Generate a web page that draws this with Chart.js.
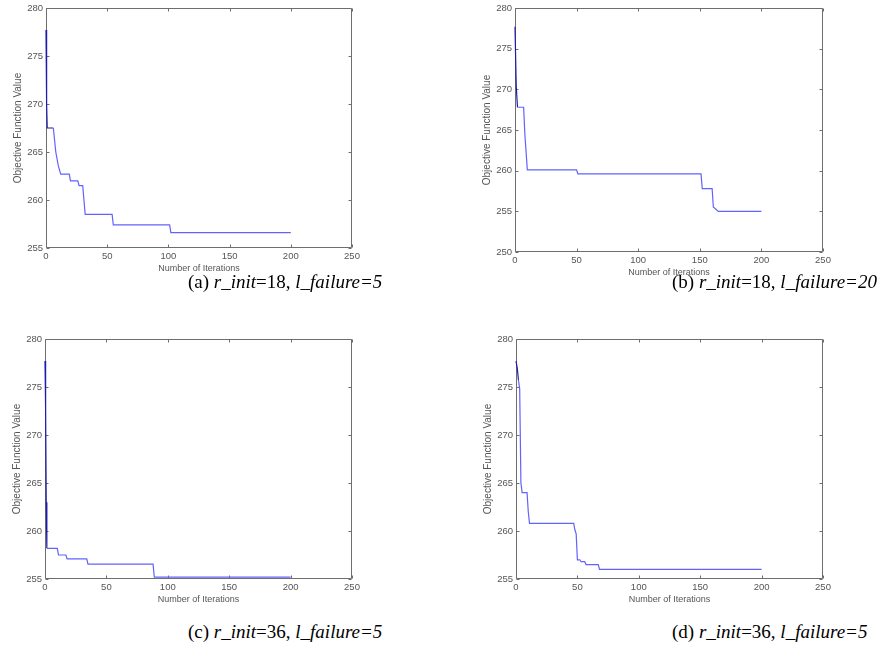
<!DOCTYPE html>
<html>
<head>
<meta charset="utf-8">
<script src="https://cdn.jsdelivr.net/npm/chart.js@4/dist/chart.umd.min.js"></script>
<style>
  body { margin: 0; background: #fff; }
  #page { position: relative; width: 887px; height: 648px; overflow: hidden; background: #fff; }
  #page canvas { position: absolute; }
  .caption {
    position: absolute;
    font-family: "Liberation Serif", "Times New Roman", serif;
    font-size: 19px;
    line-height: 20px;
    color: #000;
    white-space: nowrap;
  }
</style>
</head>
<body>
<div id="page">
  <canvas id="chartA"></canvas>
  <canvas id="chartB"></canvas>
  <canvas id="chartC"></canvas>
  <canvas id="chartD"></canvas>
  <div class="caption" style="left:188px;top:272px">(a) <i>r_init</i>=18, <i>l_failure=5</i></div>
  <div class="caption" style="left:672px;top:272px">(b) <i>r_init</i>=18, <i>l_failure=20</i></div>
  <div class="caption" style="left:188px;top:622px">(c) <i>r_init</i>=36, <i>l_failure=5</i></div>
  <div class="caption" style="left:672px;top:622px">(d) <i>r_init</i>=36, <i>l_failure=5</i></div>
</div>
<script>
// best objective value per iteration, only the points where the curve bends
const iterA = [0, 0.5, 1, 6, 8, 10, 12, 19, 20, 26, 27, 30, 31, 32, 54, 55, 101, 102, 200]
const valA = [277.7, 270, 267.5, 267.5, 265, 263.6, 262.7, 262.7, 262, 262, 261.5, 261.5, 260, 258.5, 258.5, 257.4, 257.4, 256.6, 256.6]

const iterB = [0, 1, 2, 7, 8, 10, 50, 51, 151, 152, 160, 161, 162, 165, 200]
const valB = [277.7, 270.4, 267.8, 267.8, 264.5, 260.1, 260.1, 259.6, 259.6, 257.8, 257.8, 255.5, 255.4, 255, 255]

const iterC = [0, 0.5, 1, 1.5, 10, 11, 17, 18, 34, 35, 88, 89, 200]
const valC = [277.7, 272.8, 263, 258.2, 258.2, 257.5, 257.5, 257.1, 257.1, 256.55, 256.55, 255.2, 255.2]

const iterD = [0, 1, 2, 3, 4, 5, 9, 10, 11, 47, 48, 49, 50, 52, 53, 56, 57, 67, 68, 200]
const valD = [277.7, 277, 275.7, 274.8, 265, 264, 264, 262, 260.8, 260.8, 260.1, 259.7, 257, 257, 256.8, 256.8, 256.5, 256.5, 256, 256]

const xTicks = [0, 50, 100, 150, 200, 250]
const yTicksA = [255, 260, 265, 270, 275, 280]
const yTicksB = [250, 255, 260, 265, 270, 275, 280]

const xTitle = 'Number of Iterations'
const yTitle = 'Objective Function Value'

const axisColor = '#6e6e6e'
const textColor = '#555'
const lineColor = '#6262ff'
const lineColorDark = '#1c1ca8'
const sansFamily = '"Liberation Sans", Arial, sans-serif'
const tickFont = { family: sansFamily, size: 9.5 }
const xTitleFont = { family: sansFamily, size: 9 }
const yTitleFont = { family: sansFamily, size: 10 }

const yLeft = 46
const xBottom = 28
const padTop = 10
const padRight = 14

// box around the plot with short inward ticks on all four sides
const matlabBox = {
    id: 'matlabBox',
    beforeDatasetsDraw(chart) {
        const { ctx, chartArea: a, scales: { x, y } } = chart
        const l = Math.round(a.left) + 0.5
        const r = Math.round(a.right) - 0.5
        const t = Math.round(a.top) + 0.5
        const b = Math.round(a.bottom) - 0.5
        ctx.save()
        ctx.strokeStyle = axisColor
        ctx.lineWidth = 1
        ctx.beginPath()
        ctx.rect(l, t, r - l, b - t)
        x.ticks.forEach((tick) => {
            const px = Math.round(x.getPixelForValue(tick.value)) + 0.5
            ctx.moveTo(px, b); ctx.lineTo(px, b - 3)
            ctx.moveTo(px, t); ctx.lineTo(px, t + 3)
        })
        y.ticks.forEach((tick) => {
            const py = Math.round(y.getPixelForValue(tick.value)) + 0.5
            ctx.moveTo(l, py); ctx.lineTo(l + 3, py)
            ctx.moveTo(r, py); ctx.lineTo(r - 3, py)
        })
        ctx.stroke()
        ctx.restore()
    }
}

const construirPuntos = (iters, vals) => iters.map((it, i) => ({ x: it, y: vals[i] }))

const crearGrafico = (id, plot, iters, vals, yTicks) => {
    const canvas = document.getElementById(id)
    canvas.width = plot.w + yLeft + padRight
    canvas.height = plot.h + padTop + xBottom
    canvas.style.left = (plot.left - yLeft) + 'px'
    canvas.style.top = (plot.top - padTop) + 'px'

    return new Chart(canvas, {
        type: 'line',
        data: {
            datasets: [{
                data: construirPuntos(iters, vals),
                borderColor: lineColor,
                borderWidth: 1.2,
                pointRadius: 0,
                tension: 0,
                clip: 2,
                segment: {
                    borderColor: (c) => c.p0.parsed.x < 1.5 ? lineColorDark : lineColor
                }
            }]
        },
        options: {
            responsive: false,
            animation: false,
            events: [],
            layout: { padding: { left: 0, top: padTop, right: padRight, bottom: 0 } },
            plugins: { legend: { display: false }, tooltip: { enabled: false } },
            scales: {
                x: {
                    type: 'linear',
                    min: xTicks[0],
                    max: xTicks[xTicks.length - 1],
                    afterBuildTicks: (s) => { s.ticks = xTicks.map((v) => ({ value: v })) },
                    afterFit: (s) => { s.height = xBottom },
                    grid: { display: false, drawTicks: false },
                    border: { display: false },
                    ticks: { color: textColor, font: tickFont, padding: 3, maxRotation: 0 },
                    title: { display: true, text: xTitle, color: textColor, font: xTitleFont, padding: { top: 0, bottom: 2 } }
                },
                y: {
                    type: 'linear',
                    min: yTicks[0],
                    max: yTicks[yTicks.length - 1],
                    afterBuildTicks: (s) => { s.ticks = yTicks.map((v) => ({ value: v })) },
                    afterFit: (s) => { s.width = yLeft },
                    grid: { display: false, drawTicks: false },
                    border: { display: false },
                    ticks: { color: textColor, font: tickFont, padding: 3 },
                    title: { display: true, text: yTitle, color: textColor, font: yTitleFont, padding: { top: 12, bottom: 0 } }
                }
            }
        },
        plugins: [matlabBox]
    })
}

crearGrafico('chartA', { left: 46, top: 8, w: 306, h: 240 }, iterA, valA, yTicksA)
crearGrafico('chartB', { left: 515, top: 8, w: 308, h: 244 }, iterB, valB, yTicksB)
crearGrafico('chartC', { left: 45, top: 339, w: 307, h: 240 }, iterC, valC, yTicksA)
crearGrafico('chartD', { left: 516, top: 339, w: 307, h: 240 }, iterD, valD, yTicksA)
</script>
</body>
</html>
